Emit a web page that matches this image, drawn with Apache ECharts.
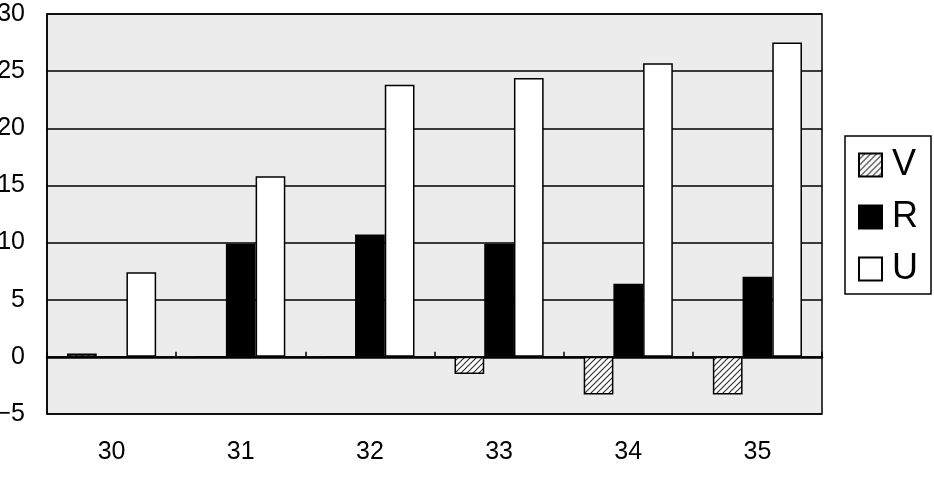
<!DOCTYPE html>
<html>
<head>
<meta charset="utf-8">
<script src="https://cdn.jsdelivr.net/npm/echarts@6/dist/echarts.min.js"></script>
<style>
  html, body { margin: 0; padding: 0; background: #fff; }
  #chart { width: 934px; height: 480px; }
</style>
</head>
<body>
<div id="chart"></div>
<script>
const categories = ['30', '31', '32', '33', '34', '35']
const valuesV = [0.3, 0, 0, -1.5, -3.3, -3.3]
const valuesR = [0, 9.9, 10.7, 9.9, 6.4, 7.0]
const valuesU = [7.4, 15.8, 23.8, 24.4, 25.7, 27.5]

// diagonal hatching for V
const makeHatch = () => {
  const c = document.createElement('canvas')
  c.width = 6
  c.height = 6
  const ctx = c.getContext('2d')
  ctx.fillStyle = '#fff'
  ctx.fillRect(0, 0, 6, 6)
  ctx.strokeStyle = '#333'
  ctx.lineWidth = 1.2
  ctx.beginPath()
  ctx.moveTo(-1, 7); ctx.lineTo(7, -1)
  ctx.moveTo(-1, 1); ctx.lineTo(1, -1)
  ctx.moveTo(5, 7); ctx.lineTo(7, 5)
  ctx.stroke()
  return c
}

const font = 'Liberation Sans, Arial, sans-serif'
const barBorder = { borderColor: '#000', borderWidth: 1.5 }

const chart = echarts.init(document.getElementById('chart'))
chart.setOption({
  animation: false,
  grid: {
    left: 47, right: 112, top: 14, bottom: 66,
    outerBoundsMode: 'none',
    show: true,
    backgroundColor: '#ececec',
    borderColor: '#000',
    borderWidth: 1.5,
  },
  legend: {
    orient: 'vertical',
    left: 845,
    top: 136,
    padding: [11, 13, 7, 13],
    itemWidth: 23,
    itemHeight: 23,
    itemGap: 16,
    icon: 'rect',
    borderColor: '#000',
    borderWidth: 1.5,
    textStyle: { fontSize: 36, color: '#000', fontFamily: font, padding: [0, 0, 0, 5] },
    data: ['V', 'R', 'U'],
  },
  xAxis: [
    {
      type: 'category',
      data: categories,
      position: 'bottom',
      axisLine: { onZero: false, show: false },
      axisTick: { show: false },
      axisLabel: { fontSize: 25, color: '#000', fontFamily: font, margin: 26 },
    },
    {
      type: 'category',
      data: categories,
      position: 'bottom',
      axisLine: { onZero: true, lineStyle: { color: '#000', width: 2.5 } },
      axisTick: { show: true, inside: true, length: 5, lineStyle: { color: '#000', width: 1.5 } },
      axisLabel: { show: false },
    },
  ],
  yAxis: {
    type: 'value',
    min: -5,
    max: 30,
    interval: 5,
    axisLine: { show: true, lineStyle: { color: '#000', width: 1.5 } },
    axisTick: { show: false },
    axisLabel: {
      fontSize: 25, color: '#000', fontFamily: font, margin: 22,
      formatter: (v) => String(v).replace('-', '\u2212'),
    },
    splitLine: { lineStyle: { color: '#000', width: 1.5 } },
  },
  series: [
    {
      name: 'V', type: 'bar', data: valuesV, barGap: '0%', barCategoryGap: '31%',
      itemStyle: { color: { image: makeHatch(), repeat: 'repeat' }, ...barBorder },
    },
    {
      name: 'R', type: 'bar', data: valuesR, barGap: '0%', barCategoryGap: '31%',
      itemStyle: { color: '#000', ...barBorder },
    },
    {
      name: 'U', type: 'bar', data: valuesU, barGap: '0%', barCategoryGap: '31%',
      itemStyle: { color: '#fff', ...barBorder },
    },
  ],
})
</script>
</body>
</html>
